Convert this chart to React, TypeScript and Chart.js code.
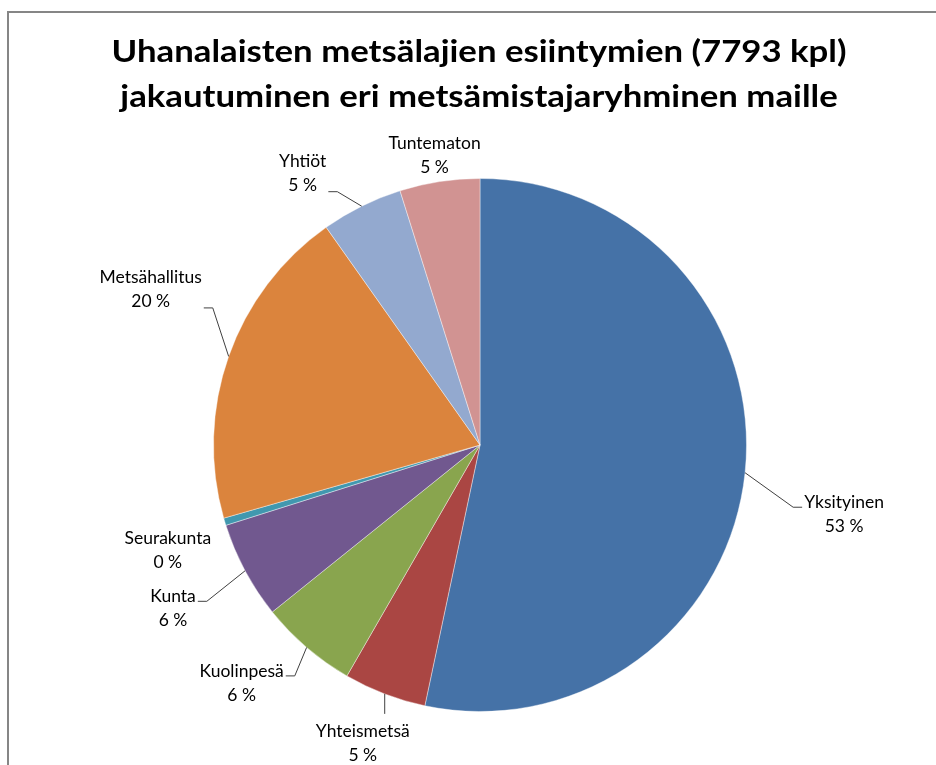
import { useEffect, useRef } from "react";
import { Chart, registerables } from "chart.js";

Chart.register(...registerables);

const titleLines = [
  "Uhanalaisten metsälajien esiintymien (7793 kpl)",
  "jakautuminen eri metsämistajaryhminen maille",
];
const categories = [
  "Yksityinen",
  "Yhteismetsä",
  "Kuolinpesä",
  "Kunta",
  "Seurakunta",
  "Metsähallitus",
  "Yhtiöt",
  "Tuntematon",
];
const counts = [4155, 390, 460, 460, 35, 1530, 385, 378];
const colors = ["#4572A7", "#AA4643", "#89A54E", "#71588F", "#4198AF", "#DB843D", "#93A9CF", "#D19392"];
// label block offset from each slice's outer mid point (layout only)
const labelOffsets: [number, number][] = [
  [99, 42],
  [-22, 49],
  [-65, 36],
  [-72, 38],
  [-57, 29],
  [-78, -67],
  [-59, -33],
  [-5, -26],
];

const W = 936;
const H = 765;

const decorPlugin = {
  id: "decor",
  beforeDraw(chart: any) {
    const ctx = chart.ctx;
    ctx.save();
    ctx.fillStyle = "#fff";
    ctx.fillRect(0, 0, W, H);
    ctx.fillStyle = "#868686";
    ctx.fillRect(7, 11, W - 7, 2);
    ctx.fillRect(7, 11, 2, H - 11);
    ctx.restore();
  },
  afterDraw(chart: any) {
    const ctx = chart.ctx as CanvasRenderingContext2D;
    ctx.save();
    // title
    ctx.fillStyle = "#000";
    ctx.font = "bold 30px Lato, 'Open Sans', sans-serif";
    ctx.textAlign = "center";
    ctx.textBaseline = "alphabetic";
    const w1 = ctx.measureText(titleLines[0]).width;
    const sx = 735 / w1;
    const baselines = [62, 107];
    titleLines.forEach((t, i) => {
      ctx.save();
      ctx.translate(479, baselines[i]);
      ctx.scale(sx, 1);
      ctx.fillText(t, 0, 0);
      ctx.restore();
    });

    // labels
    const total = counts.reduce((a, b) => a + b, 0);
    const meta = chart.getDatasetMeta(0);
    const lh = 24;
    ctx.font = "17.5px Lato, 'Open Sans', sans-serif";
    ctx.textBaseline = "middle";
    ctx.textAlign = "center";
    meta.data.forEach((arc: any, i: number) => {
      const p = arc.getProps(["x", "y", "startAngle", "endAngle", "outerRadius"], true);
      const mid = (p.startAngle + p.endAngle) / 2;
      const ax = p.x + Math.cos(mid) * p.outerRadius;
      const ay = p.y + Math.sin(mid) * p.outerRadius;
      const cx = ax + labelOffsets[i][0];
      const cy = ay + labelOffsets[i][1];
      const lines = [categories[i], Math.round((counts[i] / total) * 100) + " %"];
      const w = Math.max(...lines.map((l) => ctx.measureText(l).width));
      const left = cx - w / 2;
      const right = cx + w / 2;
      const top = cy - lh;
      const bottom = cy + lh;
      ctx.fillStyle = "#000";
      ctx.fillText(lines[0], cx, cy - lh / 2);
      ctx.fillText(lines[1], cx, cy + lh / 2);

      const ddx = Math.max(left - ax, 0, ax - right);
      const ddy = Math.max(top - ay, 0, ay - bottom);
      if (Math.hypot(ddx, ddy) < 15) return;
      ctx.strokeStyle = "#404040";
      ctx.lineWidth = 1;
      ctx.beginPath();
      if (ax >= left && ax <= right) {
        const ey = ay > bottom ? bottom + 4 : top - 5;
        ctx.moveTo(ax, ay);
        ctx.lineTo(ax, ey);
      } else {
        const attachY = Math.min(Math.max(ay, top + 16), bottom - 6) + 0.5;
        const toRight = ax < left;
        const sideX = toRight ? left - 2 : right + 2;
        const elbowX = toRight ? sideX - 9 : sideX + 9;
        ctx.moveTo(ax, ay);
        ctx.lineTo(elbowX, attachY);
        ctx.lineTo(sideX, attachY);
      }
      ctx.stroke();
    });
    ctx.restore();
  },
};

export default function App() {
  const ref = useRef<HTMLCanvasElement | null>(null);
  useEffect(() => {
    if (!ref.current) return;
    const chart = new Chart(ref.current, {
      type: "pie",
      data: {
        labels: categories,
        datasets: [
          {
            data: counts,
            backgroundColor: colors,
            borderColor: "rgba(255,255,255,0.4)",
            borderWidth: 1,
          },
        ],
      },
      options: {
        animation: false,
        responsive: false,
        devicePixelRatio: 1,
        layout: { padding: { top: 178, bottom: 53, left: 213, right: 189 } },
        plugins: {
          legend: { display: false },
          title: { display: false },
          tooltip: { enabled: false },
        },
      },
      plugins: [decorPlugin],
    });
    return () => chart.destroy();
  }, []);
  return (
    <div style={{ position: "absolute", left: 0, top: 0, width: W, height: H }}>
      <canvas ref={ref} width={W} height={H} style={{ width: W, height: H, display: "block" }} />
    </div>
  );
}
